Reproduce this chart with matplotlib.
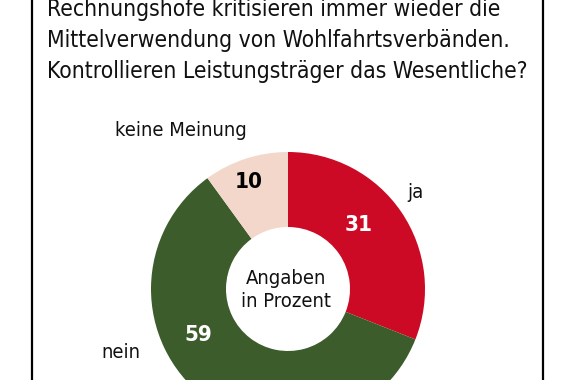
"""Umfrage-Donut: Kontrollieren Leistungsträger das Wesentliche?"""

import matplotlib
matplotlib.use("Agg")
import matplotlib.pyplot as plt
import numpy as np

W, H = 576, 380

title_lines = [
    "Rechnungshöfe kritisieren immer wieder die",
    "Mittelverwendung von Wohlfahrtsverbänden.",
    "Kontrollieren Leistungsträger das Wesentliche?",
]
categories = ["ja", "nein", "keine Meinung"]
values = [31, 59, 10]
center_label = "Angaben\nin Prozent"

colors = ["#CC0A25", "#3D5C2C", "#F3D7CA"]
value_colors = ["white", "white", "black"]

plt.rcParams["font.family"] = ["DejaVu Sans"]
plt.rcParams["font.stretch"] = "condensed"

fig = plt.figure(figsize=(W / 100, H / 100), dpi=100)
ax = fig.add_axes([0, 0, 1, 1])

# Donut in Pixelkoordinaten (y von unten)
cx, cy = 288, H - 289
R, r = 137, 62
wedges, _ = ax.pie(
    values, colors=colors, startangle=90, counterclock=False,
    center=(cx, cy), radius=R,
    wedgeprops=dict(width=R - r, linewidth=0),
)
ax.set_xlim(0, W)
ax.set_ylim(0, H)
ax.set_aspect("equal")
ax.axis("off")

# Zahlen in den Segmenten: (Winkel, Radius) je Segment
val_pos = [(42, 95), (207, 101), (110, 114)]
for v, col, (ang, rad) in zip(values, value_colors, val_pos):
    a = np.deg2rad(ang)
    ax.text(cx + rad * np.cos(a), cy + rad * np.sin(a), str(v),
            color=col, fontsize=16, fontweight="bold", ha="center", va="center")

# Kategorien außen
cat_pos = [(407, 193), (101, 352), (115, 130)]
for name, (x, y) in zip(categories, cat_pos):
    ax.text(x, H - y, name, fontsize=14.5, ha="left", va="center", color="#111111")

ax.text(cx - 2, cy - 1, center_label, fontsize=14.5, ha="center", va="center",
        linespacing=1.3, color="#111111")

# Titel, Schriftgröße an die Breite der Vorlage angepasst (47..527 px)
fs = 19
title_texts = [ax.text(47, H - (16 + 31 * i), line, fontsize=fs, ha="left",
                       va="baseline", color="#111111")
               for i, line in enumerate(title_lines)]
renderer = fig.canvas.get_renderer()
w3 = title_texts[2].get_window_extent(renderer).width
for t in title_texts:
    t.set_fontsize(fs * 480 / w3)

# Rahmenlinien links/rechts
ax.plot([32, 32], [0, H], color="black", lw=1.6)
ax.plot([543, 543], [0, H], color="black", lw=1.6)

fig.savefig("out.png", dpi=100)
